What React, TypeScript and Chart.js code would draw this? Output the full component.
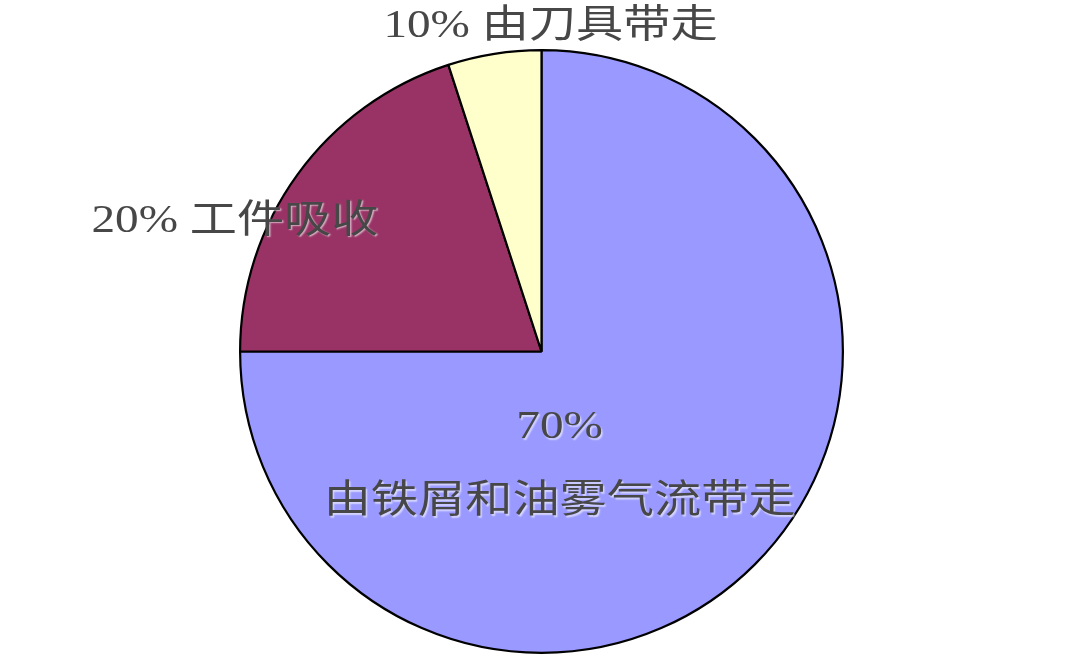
import React, { useRef, useEffect } from 'react';
import Chart from 'chart.js/auto';

// slice sizes as drawn (clockwise from 12 o'clock)
const shares = [75, 20, 5];
const colors = ['#9999FF', '#993366', '#FFFFCC'];
// label text as printed on the picture
const labelLines = [
    ['70%', '由铁屑和油雾气流带走'],
    ['20% 工件吸收'],
    ['10% 由刀具带走'],
];
// label centre offsets, in units of the pie radius, from the pie centre
const labelDx = [0.06, -1.017, 0.03];
const labelDy = [[0.253, 0.5], [-0.432], [-1.077]];

const labelPlugin = {
    id: 'sliceLabels',
    afterDraw(chart: any) {
        const arc = chart.getDatasetMeta(0).data[0];
        if (!arc) return;
        const { x, y, outerRadius } = arc;
        const ctx = chart.ctx;
        ctx.save();
        ctx.font = '39px "Liberation Serif", "Noto Sans CJK SC"';
        ctx.textAlign = 'center';
        ctx.textBaseline = 'middle';
        ctx.fillStyle = '#474747';
        ctx.shadowColor = 'rgba(255,255,255,0.6)';
        ctx.shadowOffsetX = 1.5;
        ctx.shadowOffsetY = 1.5;
        ctx.shadowBlur = 1.5;
        labelLines.forEach((lines, i) => {
            lines.forEach((line, j) => {
                const cx = x + labelDx[i] * outerRadius;
                const cy = y + labelDy[i][j] * outerRadius;
                ctx.save();
                ctx.translate(cx, cy);
                ctx.scale(1.21, 1);
                ctx.fillText(line, 0, 0);
                ctx.restore();
            });
        });
        ctx.restore();
    },
};

const PieChart = () => {
    const chartRef = useRef<HTMLCanvasElement>(null);

    useEffect(() => {
        if (!chartRef.current) return;
        const myChart = new Chart(chartRef.current, {
            type: 'pie',
            data: {
                labels: labelLines.map((l) => l.join(' ')),
                datasets: [{
                    data: shares,
                    backgroundColor: colors,
                    borderColor: '#000000',
                    borderWidth: 2.2,
                }],
            },
            options: {
                animation: false,
                responsive: true,
                maintainAspectRatio: false,
                layout: { padding: { top: 49, bottom: 11, left: 3, right: 0 } },
                plugins: {
                    legend: { display: false },
                    tooltip: { enabled: false },
                },
            },
            plugins: [labelPlugin],
        });
        return () => {
            myChart.destroy();
        };
    }, []);

    return (
        <div style={{ position: 'absolute', left: 0, top: 0, width: 1080, height: 665, background: '#fff' }}>
            <canvas ref={chartRef}></canvas>
        </div>
    );
};

export default function App() {
    return <PieChart />;
}
